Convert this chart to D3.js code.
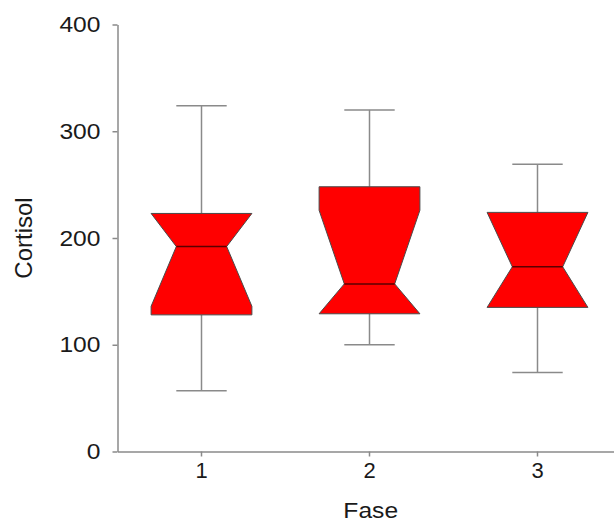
<!DOCTYPE html>
<html>
<head>
<meta charset="utf-8">
<script src="https://cdn.jsdelivr.net/npm/d3@7"></script>
<style>
  html, body { margin: 0; padding: 0; background: #fff; }
  svg { display: block; }
  text { font-family: "Liberation Sans", Arial, sans-serif; fill: #1a1a1a; }
</style>
</head>
<body>
<svg id="chart" width="614" height="522"></svg>
<script>
// Cortisol by phase: notched box plot summaries
const phases      = ["1", "2", "3"];
const whiskerHigh = [324, 320, 269];
const q3          = [223, 248, 224];
const median      = [192, 157, 173];
const q1          = [128, 129, 135];
const whiskerLow  = [57, 100, 74];
const notchHigh   = [248, 226, 226];
const notchLow    = [136, 87, 121];
const yTicks      = [0, 100, 200, 300, 400];

const rows = phases.map((p, i) => ({
  phase: p, hi: whiskerHigh[i], q3: q3[i], med: median[i],
  q1: q1[i], lo: whiskerLow[i], nHi: notchHigh[i], nLo: notchLow[i]
}));

const svg = d3.select("#chart");
const plotLeft = 117.5, plotRight = 621.5, plotTop = 24.5, plotBottom = 451.5;

const x = d3.scaleBand().domain(phases).range([plotLeft, plotRight])
  .paddingInner(0.4).paddingOuter(0.2);
const y = d3.scaleLinear().domain([0, 400]).range([plotBottom, plotTop]);

const axisColor = "#8a8a8a";
const wide = 1.12; // horizontal widening of the label glyphs

// Axes
const yAxis = svg.append("g").attr("transform", `translate(${plotLeft},0)`)
  .call(d3.axisLeft(y).tickValues(yTicks).tickSize(5).tickSizeOuter(0).tickPadding(12));
const xAxis = svg.append("g").attr("transform", `translate(0,${plotBottom})`)
  .call(d3.axisBottom(x).tickSize(5).tickSizeOuter(0).tickPadding(6));
[yAxis, xAxis].forEach(g => {
  g.selectAll("path, line").attr("stroke", axisColor).attr("stroke-width", 1.5);
  g.selectAll("text").attr("font-size", 22).attr("fill", "#1a1a1a")
    .attr("font-family", "'Liberation Sans', Arial, sans-serif");
});
yAxis.selectAll(".tick text").each(function () {
  const t = d3.select(this);
  const tx = +t.attr("x");
  t.attr("x", 0).attr("transform", `translate(${tx},0) scale(${wide},1)`);
});

// Axis titles
svg.append("text")
  .attr("transform", `translate(${(plotLeft + 614) / 2 + 5},518) scale(${wide},1)`)
  .attr("text-anchor", "middle").attr("font-size", 22).text("Fase");
svg.append("text")
  .attr("transform", `translate(32,${(plotTop + plotBottom) / 2}) rotate(-90)`)
  .attr("text-anchor", "middle").attr("font-size", 24).text("Cortisol");

// Boxes
const bw = x.bandwidth();
const g = svg.append("g");
rows.forEach(d => {
  const cx = x(d.phase) + bw / 2;
  const l = cx - bw / 2, r = cx + bw / 2;
  const il = cx - bw / 4, ir = cx + bw / 4;
  const capW = bw / 4;
  const nHi = Math.min(d.nHi, d.q3), nLo = Math.max(d.nLo, d.q1);

  // whiskers and caps
  const seg = (x1, y1, x2, y2) => g.append("line")
    .attr("x1", x1).attr("y1", y1).attr("x2", x2).attr("y2", y2)
    .attr("stroke", axisColor).attr("stroke-width", 1.5);
  seg(cx, y(d.hi), cx, y(d.q3));
  seg(cx, y(d.q1), cx, y(d.lo));
  seg(cx - capW, y(d.hi), cx + capW, y(d.hi));
  seg(cx - capW, y(d.lo), cx + capW, y(d.lo));

  // notched box
  const pts = [
    [l, y(d.q3)], [r, y(d.q3)], [r, y(nHi)], [ir, y(d.med)], [r, y(nLo)], [r, y(d.q1)],
    [l, y(d.q1)], [l, y(nLo)], [il, y(d.med)], [l, y(nHi)]
  ];
  g.append("path").attr("d", d3.line()(pts) + "Z")
    .attr("fill", "#ff0000").attr("stroke", "#4a4a4a").attr("stroke-width", 1);

  // median
  g.append("line").attr("x1", il).attr("x2", ir).attr("y1", y(d.med)).attr("y2", y(d.med))
    .attr("stroke", "#5a0000").attr("stroke-width", 1.5);
});
</script>
</body>
</html>
